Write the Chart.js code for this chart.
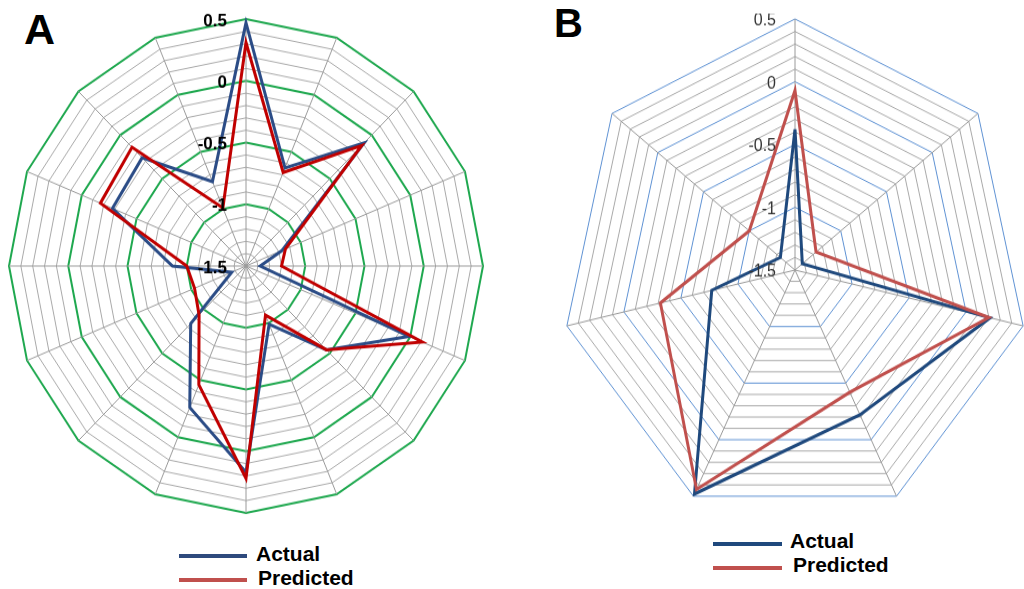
<!DOCTYPE html>
<html>
<head>
<meta charset="utf-8">
<script src="https://cdn.jsdelivr.net/npm/chart.js@4.4.0/dist/chart.umd.min.js"></script>
<style>
  html, body { margin: 0; padding: 0; background: #fff; }
  body { position: relative; width: 1024px; height: 589px; overflow: hidden;
         font-family: 'Liberation Sans', Arial, sans-serif; }
  .wrap { position: absolute; }
  #wrapA { left: 4px; top: 24px; width: 484px; height: 484px; transform: scaleY(1.042); }
  #wrapB { left: 556px; top: 31px; width: 478px; height: 478px; transform: scaleY(1.073); }
  .panel { position: absolute; font-weight: bold; line-height: 1; color: #000; }
  .swatch { position: absolute; height: 4px; }
  .leg { position: absolute; font-weight: bold; font-size: 21px; line-height: 1; color: #000; }
</style>
</head>
<body>
<div class="panel" style="left:24px; top:8px; font-size:43px;">A</div>
<div class="panel" style="left:554px; top:3px; font-size:40px;">B</div>

<div class="wrap" id="wrapA"><canvas id="chart-a"></canvas></div>
<div class="wrap" id="wrapB"><canvas id="chart-b"></canvas></div>

<!-- leyendas -->
<div class="swatch" style="left:179px; top:554px; width:68px; background:#2e4a7d;"></div>
<div class="leg" style="left:256px; top:543px;">Actual</div>
<div class="swatch" style="left:179px; top:578px; width:68px; background:#c0504d;"></div>
<div class="leg" style="left:258px; top:567px;">Predicted</div>

<div class="swatch" style="left:713px; top:542px; width:69px; background:#1f497d;"></div>
<div class="leg" style="left:790px; top:530px;">Actual</div>
<div class="swatch" style="left:713px; top:566px; width:69px; background:#c0504d;"></div>
<div class="leg" style="left:793px; top:554px;">Predicted</div>

<script>
// Panel A: 16 ejes
const labelsA    = ['1','2','3','4','5','6','7','8','9','10','11','12','13','14','15','16'];
const actualA    = [0.47, -0.64, -0.09, -1.17, -1.38, -0.01, -0.54, -0.99, 0.17, -0.26, -0.84, -1.37, -0.88, -0.28, -0.26, -0.76];
const predictedA = [0.31, -0.68, -0.12, -1.14, -1.20, 0.11, -0.54, -1.07, 0.22, -0.46, -0.94, -1.03, -1.00, -0.17, -0.14, -0.99];

// Panel B: 7 ejes
const labelsB    = ['1','2','3','4','5','6','7'];
const actualB    = [-0.38, -1.42, 0.21, -0.22, 0.48, -0.77, -1.34];
const predictedB = [-0.07, -1.27, 0.20, -0.42, 0.44, -0.32, -1.00];

// Escala común
const R_MIN = -1.5;
const R_MAX = 0.5;
const R_STEP = 0.1;
const TICK_VALUES = [0.5, 0, -0.5, -1, -1.5];
const TICK_LABELS = ['0.5', '0', '-0.5', '-1', '-1.5'];

const isMajor = (v) => Math.abs(v * 2 - Math.round(v * 2)) < 1e-6;

// Etiquetas del eje a la izquierda del eje superior (Chart.js omite la del centro)
const tickLabelPlugin = {
  id: 'tickLabels',
  afterDraw(chart, args, opts) {
    const s = chart.scales.r;
    const c = chart.ctx;
    c.save();
    c.font = opts.font;
    c.fillStyle = opts.color;
    c.textAlign = 'right';
    c.textBaseline = 'middle';
    TICK_VALUES.forEach((v, i) => {
      const d = s.getDistanceFromCenterForValue(v);
      c.fillText(TICK_LABELS[i], s.xCenter - 19, s.yCenter - d + 2);
    });
    c.restore();
  },
};

function makeRadar(id, labels, actual, predicted, style) {
  return new Chart(document.getElementById(id), {
    type: 'radar',
    data: {
      labels,
      datasets: [
        { label: 'Actual',    data: actual,    borderColor: style.blue, borderWidth: 3, fill: false, order: 1 },
        { label: 'Predicted', data: predicted, borderColor: style.red,  borderWidth: 3, fill: false, order: 0 },
      ],
    },
    options: {
      responsive: true,
      maintainAspectRatio: false,
      animation: false,
      layout: { padding: 5 },
      elements: { line: { tension: 0 }, point: { radius: 0, hoverRadius: 0 } },
      plugins: {
        legend: { display: false },
        tooltip: { enabled: false },
        tickLabels: { font: style.tickFont, color: style.tickColor },
      },
      scales: {
        r: {
          min: R_MIN,
          max: R_MAX,
          ticks: { stepSize: R_STEP, display: false },
          pointLabels: { display: false },
          angleLines: { color: '#9a9a9a', lineWidth: 1 },
          grid: {
            color:     (ctx) => isMajor(ctx.tick.value) ? style.major : '#a9a9a9',
            lineWidth: (ctx) => isMajor(ctx.tick.value) ? style.majorWidth : 1,
          },
        },
      },
    },
    plugins: [tickLabelPlugin],
  });
}

makeRadar('chart-a', labelsA, actualA, predictedA, {
  blue: '#2b4c86', red: '#c00000', major: '#1fa84f', majorWidth: 2,
  tickFont: "bold 17px 'Liberation Sans', Arial, sans-serif", tickColor: '#000',
});
makeRadar('chart-b', labelsB, actualB, predictedB, {
  blue: '#1f497d', red: '#c0504d', major: '#5f92d3', majorWidth: 1,
  tickFont: "16px 'Liberation Sans', Arial, sans-serif", tickColor: '#333',
});
</script>
</body>
</html>
